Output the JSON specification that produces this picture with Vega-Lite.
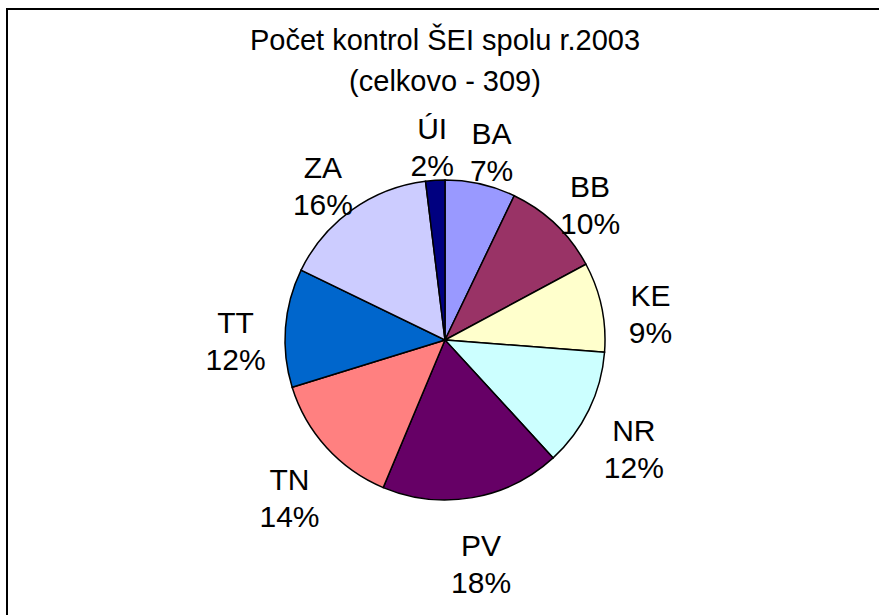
{
  "$schema": "https://vega.github.io/schema/vega-lite/v6.json",
  "width": 876,
  "height": 662,
  "autosize": {"type": "none"},
  "padding": {"left": 7, "top": 9, "right": 0, "bottom": 0},
  "background": "white",
  "config": {"view": {"stroke": "black", "strokeWidth": 2}},
  "view": {"stroke": "black", "strokeWidth": 2, "fill": "white"},
  "title": {
    "text": ["Počet kontrol ŠEI spolu r.2003", "(celkovo - 309)"],
    "font": "Liberation Sans",
    "fontSize": 29,
    "fontWeight": "normal",
    "color": "black",
    "lineHeight": 41,
    "anchor": "middle",
    "baseline": "top",
    "offset": -88
  },
  "data": {
    "values": [
      {"region": "BA", "count": 22, "percent": "7%", "order": 1},
      {"region": "BB", "count": 31, "percent": "10%", "order": 2},
      {"region": "KE", "count": 28, "percent": "9%", "order": 3},
      {"region": "NR", "count": 37, "percent": "12%", "order": 4},
      {"region": "PV", "count": 56, "percent": "18%", "order": 5},
      {"region": "TN", "count": 43, "percent": "14%", "order": 6},
      {"region": "TT", "count": 37, "percent": "12%", "order": 7},
      {"region": "ZA", "count": 49, "percent": "16%", "order": 8},
      {"region": "ÚI", "count": 6, "percent": "2%", "order": 9}
    ]
  },
  "transform": [{"calculate": "datum.region + '\\n' + datum.percent", "as": "label"}],
  "encoding": {
    "theta": {"field": "count", "type": "quantitative", "stack": true},
    "order": {"field": "order", "type": "quantitative"}
  },
  "layer": [
    {
      "mark": {"type": "arc", "outerRadius": 160, "stroke": "black", "strokeWidth": 1.5},
      "encoding": {
        "color": {
          "field": "region",
          "type": "nominal",
          "legend": null,
          "scale": {
            "domain": ["BA", "BB", "KE", "NR", "PV", "TN", "TT", "ZA", "ÚI"],
            "range": ["#9999FF", "#993366", "#FFFFCC", "#CCFFFF", "#660066", "#FF8080", "#0066CC", "#CCCCFF", "#000080"]
          }
        }
      }
    },
    {
      "mark": {"type": "text", "radius": 210, "font": "Liberation Sans", "fontSize": 30, "lineBreak": "\n", "lineHeight": 37, "color": "black", "align": "center", "baseline": "middle"},
      "encoding": {
        "text": {"field": "label", "type": "nominal"}
      }
    }
  ]
}
